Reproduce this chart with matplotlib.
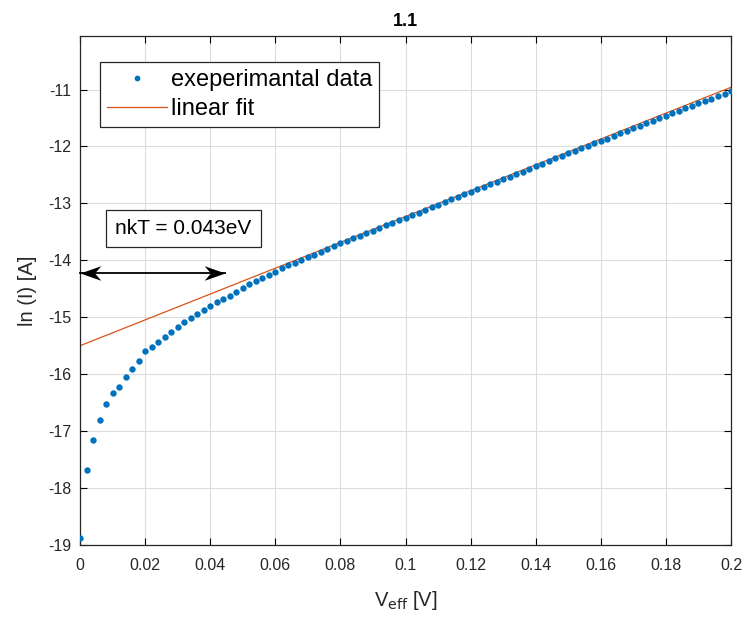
import numpy as np
import matplotlib
matplotlib.use("Agg")
import matplotlib.pyplot as plt
from matplotlib.ticker import FormatStrFormatter
from matplotlib.path import Path

plt.rcParams['font.family'] = ['Liberation Sans', 'DejaVu Sans']
plt.rcParams['axes.unicode_minus'] = False

# measured points: V_eff [V] and ln(I)
v_eff = [0.000, 0.002, 0.004, 0.006, 0.008, 0.010, 0.012, 0.014, 0.016, 0.018,
         0.020, 0.022, 0.024, 0.026, 0.028, 0.030, 0.032, 0.034, 0.036, 0.038,
         0.040, 0.042, 0.044, 0.046, 0.048, 0.050, 0.052, 0.054, 0.056, 0.058,
         0.060, 0.062, 0.064, 0.066, 0.068, 0.070, 0.072, 0.074, 0.076, 0.078,
         0.080, 0.082, 0.084, 0.086, 0.088, 0.090, 0.092, 0.094, 0.096, 0.098,
         0.100, 0.102, 0.104, 0.106, 0.108, 0.110, 0.112, 0.114, 0.116, 0.118,
         0.120, 0.122, 0.124, 0.126, 0.128, 0.130, 0.132, 0.134, 0.136, 0.138,
         0.140, 0.142, 0.144, 0.146, 0.148, 0.150, 0.152, 0.154, 0.156, 0.158,
         0.160, 0.162, 0.164, 0.166, 0.168, 0.170, 0.172, 0.174, 0.176, 0.178,
         0.180, 0.182, 0.184, 0.186, 0.188, 0.190, 0.192, 0.194, 0.196, 0.198,
         0.200]
ln_i = [-18.87, -17.68, -17.16, -16.81, -16.53, -16.33, -16.23, -16.04, -15.90, -15.77,
        -15.60, -15.52, -15.43, -15.35, -15.25, -15.17, -15.09, -15.02, -14.94, -14.88,
        -14.81, -14.74, -14.68, -14.62, -14.56, -14.48, -14.42, -14.36, -14.31, -14.25,
        -14.20, -14.14, -14.09, -14.04, -13.99, -13.94, -13.90, -13.85, -13.80, -13.75,
        -13.70, -13.66, -13.61, -13.57, -13.52, -13.48, -13.43, -13.38, -13.34, -13.29,
        -13.25, -13.20, -13.16, -13.11, -13.07, -13.02, -12.98, -12.93, -12.89, -12.84,
        -12.80, -12.75, -12.71, -12.66, -12.62, -12.57, -12.53, -12.48, -12.44, -12.39,
        -12.35, -12.30, -12.26, -12.21, -12.17, -12.12, -12.08, -12.03, -11.99, -11.94,
        -11.90, -11.86, -11.81, -11.77, -11.72, -11.68, -11.64, -11.59, -11.55, -11.50,
        -11.46, -11.42, -11.37, -11.33, -11.29, -11.24, -11.20, -11.16, -11.11, -11.07,
        -11.03]

# linear fit end points
fit_x = [0.0, 0.2]
fit_y = [-15.50, -10.96]

x_ticks = [0, 0.02, 0.04, 0.06, 0.08, 0.1, 0.12, 0.14, 0.16, 0.18, 0.2]
y_ticks = [-19, -18, -17, -16, -15, -14, -13, -12, -11]

arrow_x = [0.0, 0.0445]
arrow_y = -14.23

fig = plt.figure(figsize=(7.49, 6.19), dpi=100)
ax = fig.add_axes([0.1068, 0.1195, 0.8692, 0.8223])

ax.plot(v_eff, ln_i, 'o', color='#0072BD', markersize=4.6, markeredgewidth=0,
        label='exeperimantal data', zorder=3)
ax.plot(fit_x, fit_y, '-', color='#D95319', linewidth=0.9, label='linear fit', zorder=2)

ax.set_xlim(0, 0.2)
ax.set_ylim(-19, -10.06)
ax.set_xticks(x_ticks)
ax.set_yticks(y_ticks)
ax.xaxis.set_major_formatter(FormatStrFormatter('%g'))
ax.grid(True, color='#dcdcdc', linewidth=0.8)
ax.set_axisbelow(True)
ax.tick_params(direction='in', top=True, right=True, length=5, width=0.8,
               labelsize=11.5, labelcolor='#262626')
ax.tick_params(axis='x', pad=9)
ax.tick_params(axis='y', pad=6)
for s in ax.spines.values():
    s.set_linewidth(0.9)
    s.set_color('#262626')

ax.set_xlabel('V$_{\\mathrm{eff}}$ [V]', fontsize=14.5, color='#262626', labelpad=12)
ax.set_ylabel('ln (I) [A]', fontsize=14.5, color='#262626', labelpad=8)
ax.set_title('1.1', fontsize=13, fontweight='bold', pad=7)

leg = ax.legend(loc='upper left', bbox_to_anchor=(0.031, 0.949), borderaxespad=0,
                fontsize=17, frameon=True, fancybox=False, framealpha=1,
                edgecolor='#262626', handlelength=2.55, handletextpad=0.15,
                borderpad=0.3, labelspacing=0.3, markerscale=0.9)
leg.get_frame().set_linewidth(0.9)

ax.text(0.0108, -13.44, 'nkT = 0.043eV', fontsize=15, va='center', ha='left',
        bbox=dict(boxstyle='square,pad=0.45', facecolor='white', edgecolor='#262626',
                  linewidth=0.9), zorder=5)

# double arrow with swept-back heads
head_r = Path([(0, 0), (-2, 0.7), (-1.4, 0), (-2, -0.7), (0, 0)],
              [Path.MOVETO, Path.LINETO, Path.LINETO, Path.LINETO, Path.CLOSEPOLY])
head_l = Path([(0, 0), (2, 0.7), (1.4, 0), (2, -0.7), (0, 0)],
              [Path.MOVETO, Path.LINETO, Path.LINETO, Path.LINETO, Path.CLOSEPOLY])
ax.plot(arrow_x, [arrow_y, arrow_y], '-', color='black', linewidth=1.3, zorder=5,
        clip_on=False)
ax.plot(arrow_x[1], arrow_y, marker=head_r, markersize=30, color='black',
        markeredgewidth=0, zorder=6, clip_on=False)
ax.plot(arrow_x[0], arrow_y, marker=head_l, markersize=30, color='black',
        markeredgewidth=0, zorder=6, clip_on=False)

fig.savefig('out.png', dpi=100)
